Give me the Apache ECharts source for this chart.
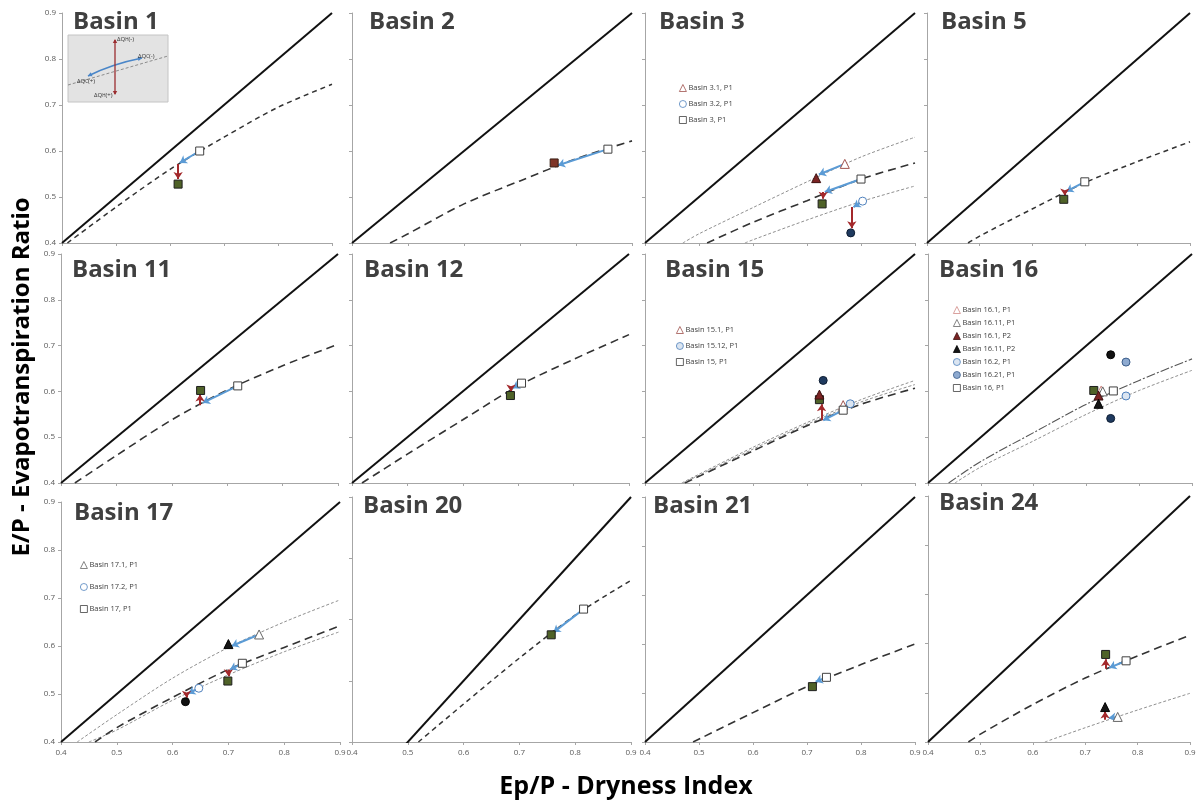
<!DOCTYPE html>
<html>
<head>
<meta charset="utf-8">
<script src="https://cdn.jsdelivr.net/npm/echarts@6/dist/echarts.min.js"></script>
<style>
html, body { margin: 0; padding: 0; background: #fff; }
#chart { width: 1201px; height: 805px; }
</style>
</head>
<body>
<div id="chart"></div>
<script>
// axis range shared by every panel
var axisMin = 0.4, axisMax = 0.9, axisStep = 0.1;
var b20YMin = 0.5;
var oneToOne = [[0.4, 0.4], [0.9, 0.9]];

// Basin 1
var b1Fit = [[0.41, 0.40], [0.5, 0.478], [0.6, 0.56], [0.7, 0.63], [0.8, 0.695], [0.9, 0.745]];
var b1Start = [[0.655, 0.600]];
var b1End = [[0.615, 0.528]];
var b1Climate = [[[0.655, 0.600], [0.618, 0.574]]];
var b1Human = [[[0.615, 0.572], [0.615, 0.539]]];

// Basin 2
var b2Fit = [[0.468, 0.40], [0.5, 0.42], [0.6, 0.485], [0.7, 0.535], [0.8, 0.583], [0.9, 0.622]];
var b2Start = [[0.857, 0.604]];
var b2End = [[0.761, 0.574]];
var b2Climate = [[[0.857, 0.604], [0.768, 0.569]]];

// Basin 3  (order: 3, 3.1, 3.2)
var b3Fit = [[0.515, 0.40], [0.6, 0.445], [0.7, 0.492], [0.8, 0.539], [0.9, 0.574]];
var b3Fit31 = [[0.47, 0.40], [0.5, 0.42], [0.6, 0.477], [0.7, 0.533], [0.8, 0.587], [0.9, 0.63]];
var b3Fit32 = [[0.585, 0.40], [0.6, 0.407], [0.7, 0.45], [0.8, 0.49], [0.9, 0.524]];
var b3Start = [[0.800, 0.539], [0.770, 0.572], [0.803, 0.491]];
var b3End = [[0.728, 0.485], [0.717, 0.541], [0.781, 0.422]];
var b3Climate = [[[0.800, 0.539], [0.733, 0.511]], [[0.770, 0.572], [0.722, 0.549]], [[0.803, 0.491], [0.786, 0.478]]];
var b3Human = [[[0.730, 0.511], [0.730, 0.496]], [[0.783, 0.478], [0.783, 0.432]]];

// Basin 5
var b5Fit = [[0.478, 0.40], [0.5, 0.415], [0.6, 0.474], [0.7, 0.531], [0.8, 0.577], [0.9, 0.62]];
var b5Start = [[0.700, 0.533]];
var b5End = [[0.660, 0.495]];
var b5Climate = [[[0.700, 0.533], [0.665, 0.512]]];
var b5Human = [[[0.662, 0.513], [0.662, 0.503]]];

// Basin 11
var b11Fit = [[0.425, 0.40], [0.5, 0.46], [0.6, 0.538], [0.7, 0.603], [0.8, 0.656], [0.9, 0.703]];
var b11Start = [[0.719, 0.612]];
var b11End = [[0.652, 0.602]];
var b11Climate = [[[0.719, 0.612], [0.656, 0.575]]];
var b11Human = [[[0.651, 0.570], [0.651, 0.593]]];

// Basin 12
var b12Fit = [[0.418, 0.40], [0.5, 0.463], [0.6, 0.538], [0.7, 0.612], [0.8, 0.670], [0.9, 0.724]];
var b12Start = [[0.706, 0.618]];
var b12End = [[0.686, 0.591]];
var b12Climate = [[[0.706, 0.618], [0.690, 0.607]]];
var b12Human = [[[0.687, 0.607], [0.687, 0.600]]];

// Basin 15  (order: 15, 15.1, 15.12)
var b15Fit = [[0.474, 0.40], [0.6, 0.47], [0.7, 0.525], [0.8, 0.572], [0.9, 0.607]];
var b15Fit1 = [[0.468, 0.40], [0.6, 0.478], [0.7, 0.532], [0.8, 0.582], [0.9, 0.624]];
var b15Fit12 = [[0.471, 0.40], [0.6, 0.474], [0.7, 0.528], [0.8, 0.577], [0.9, 0.615]];
var b15Start = [[0.767, 0.559], [0.767, 0.570], [0.780, 0.573]];
var b15End = [[0.723, 0.582], [0.723, 0.593], [0.730, 0.624]];
var b15Climate = [[[0.767, 0.559], [0.730, 0.537]]];
var b15Human = [[[0.727, 0.537], [0.727, 0.572]]];

// Basin 16  (P1: 16.1, 16.11, 16.2, 16.21, 16 / P2: 16.1, 16.11)
var b16FitA = [[0.439, 0.40], [0.5, 0.447], [0.6, 0.51], [0.7, 0.572], [0.8, 0.624], [0.9, 0.671]];
var b16FitB = [[0.451, 0.40], [0.5, 0.435], [0.6, 0.492], [0.7, 0.55], [0.8, 0.602], [0.9, 0.646]];
var b16P1 = [[0.728, 0.602], [0.731, 0.600], [0.775, 0.590], [0.775, 0.664], [0.751, 0.601]];
var b16P2 = [[0.723, 0.591], [0.723, 0.573]];
var b16Other = [[0.714, 0.602], [0.746, 0.680], [0.746, 0.541]];

// Basin 17  (order: 17, 17.1, 17.2)
var b17Fit = [[0.461, 0.40], [0.5, 0.43], [0.6, 0.493], [0.7, 0.551], [0.8, 0.597], [0.9, 0.642]];
var b17Fit1 = [[0.429, 0.40], [0.5, 0.457], [0.6, 0.533], [0.7, 0.597], [0.8, 0.65], [0.9, 0.696]];
var b17Fit2 = [[0.45, 0.40], [0.5, 0.425], [0.6, 0.487], [0.7, 0.54], [0.8, 0.588], [0.9, 0.63]];
var b17Start = [[0.725, 0.564], [0.755, 0.624], [0.647, 0.512]];
var b17End = [[0.699, 0.527], [0.700, 0.604], [0.623, 0.484]];
var b17Climate = [[[0.725, 0.564], [0.703, 0.551]], [[0.755, 0.624], [0.706, 0.600]], [[0.647, 0.512], [0.628, 0.501]]];
var b17Human = [[[0.700, 0.551], [0.700, 0.537]], [[0.625, 0.501], [0.625, 0.492]]];

// Basin 20
var b20Fit = [[0.519, 0.50], [0.6, 0.562], [0.7, 0.637], [0.8, 0.707], [0.9, 0.764]];
var b20Start = [[0.815, 0.717]];
var b20End = [[0.757, 0.675]];
var b20Climate = [[[0.815, 0.717], [0.761, 0.679]]];

// Basin 21
var b21Fit = [[0.489, 0.40], [0.6, 0.46], [0.7, 0.513], [0.8, 0.558], [0.9, 0.60]];
var b21Start = [[0.736, 0.532]];
var b21End = [[0.710, 0.513]];
var b21Climate = [[[0.736, 0.532], [0.716, 0.523]]];

// Basin 24
var b24Fit = [[0.477, 0.40], [0.5, 0.416], [0.6, 0.476], [0.7, 0.53], [0.8, 0.575], [0.9, 0.617]];
var b24FitLow = [[0.623, 0.40], [0.7, 0.429], [0.8, 0.465], [0.9, 0.499]];
var b24Start = [[0.778, 0.565], [0.762, 0.451]];
var b24End = [[0.739, 0.578], [0.738, 0.471]];
var b24Climate = [[[0.778, 0.565], [0.746, 0.551]], [[0.762, 0.451], [0.745, 0.449]]];
var b24Human = [[[0.739, 0.549], [0.739, 0.568]], [[0.738, 0.445], [0.738, 0.462]]];

// ---------- styles ----------
var markStyle = {
    open:        { symbol: 'rect',     size: 8, fill: '#ffffff', line: '#404040' },
    green:       { symbol: 'rect',     size: 8, fill: '#4f6228', line: '#1e1e1e' },
    brown:       { symbol: 'rect',     size: 8, fill: '#7f3527', line: '#3a2015' },
    triOpenRed:  { symbol: 'triangle', size: 9, fill: '#ffffff', line: '#a0524d' },
    triOpenPink: { symbol: 'triangle', size: 9, fill: '#ffffff', line: '#d08a86' },
    triOpenGray: { symbol: 'triangle', size: 9, fill: '#ffffff', line: '#666666' },
    triRed:      { symbol: 'triangle', size: 9, fill: '#7b2323', line: '#3d1010' },
    triBlack:    { symbol: 'triangle', size: 9, fill: '#151515', line: '#000000' },
    cirOpen:     { symbol: 'circle',   size: 8, fill: '#ffffff', line: '#4f81bd' },
    cirLight:    { symbol: 'circle',   size: 8, fill: '#dbe5f1', line: '#4f81bd' },
    cirBlue:     { symbol: 'circle',   size: 8, fill: '#8eaad0', line: '#3b5d8a' },
    cirNavy:     { symbol: 'circle',   size: 8, fill: '#1f3a5f', line: '#0f1e33' },
    cirBlack:    { symbol: 'circle',   size: 8, fill: '#111111', line: '#000000' }
};
var fitStyle = {
    solid:   { color: '#111', width: 2, type: 'solid' },
    dash:    { color: '#333', width: 1.6, type: [8, 5] },
    sdash:   { color: '#333', width: 1.5, type: [5, 4] },
    dot:     { color: '#8f8f8f', width: 1, type: [3, 2] },
    dashdot: { color: '#555', width: 1.1, type: [9, 2, 2, 2] }
};

// pixel box of each panel: left, top, right, bottom
var boxes = [
    [62, 13, 332, 243], [352, 13, 632, 243], [645, 13, 915, 243], [927, 13, 1190, 243],
    [61, 254, 338, 483], [352, 254, 629, 483], [645, 254, 915, 483], [928, 254, 1192, 483],
    [61, 502, 340, 742], [352, 497, 631, 742], [645, 497, 915, 742], [928, 496, 1190, 742]
];
var titlePos = [
    [73, 10], [369, 10], [659, 10], [941, 10],
    [72, 258], [364, 258], [665, 258], [939, 258],
    [74, 501], [363, 494], [653, 494], [939, 491]
];

var panels = [
    { name: 'Basin 1', fits: [[b1Fit, 'sdash']],
      marks: [[b1Start[0], 'open', 'Basin 1, P1'], [b1End[0], 'green']],
      climate: b1Climate, human: b1Human },
    { name: 'Basin 2', fits: [[b2Fit, 'dash']],
      marks: [[b2Start[0], 'open', 'Basin 2, P1'], [b2End[0], 'brown']],
      climate: b2Climate, human: [] },
    { name: 'Basin 3', fits: [[b3Fit31, 'dot'], [b3Fit, 'dash'], [b3Fit32, 'dot']],
      marks: [[b3Start[1], 'triOpenRed', 'Basin 3.1, P1'], [b3Start[2], 'cirOpen', 'Basin 3.2, P1'],
              [b3Start[0], 'open', 'Basin 3, P1'],
              [b3End[0], 'green'], [b3End[1], 'triRed'], [b3End[2], 'cirNavy']],
      climate: b3Climate, human: b3Human, legend: { left: 679, top: 84, gap: 8 } },
    { name: 'Basin 5', fits: [[b5Fit, 'sdash']],
      marks: [[b5Start[0], 'open', 'Basin 5, P1'], [b5End[0], 'green']],
      climate: b5Climate, human: b5Human },
    { name: 'Basin 11', fits: [[b11Fit, 'dash']],
      marks: [[b11Start[0], 'open', 'Basin 11, P1'], [b11End[0], 'green']],
      climate: b11Climate, human: b11Human },
    { name: 'Basin 12', fits: [[b12Fit, 'dash']],
      marks: [[b12Start[0], 'open', 'Basin 12, P1'], [b12End[0], 'green']],
      climate: b12Climate, human: b12Human },
    { name: 'Basin 15', fits: [[b15Fit1, 'dot'], [b15Fit12, 'dot'], [b15Fit, 'dash']],
      marks: [[b15Start[1], 'triOpenRed', 'Basin 15.1, P1'], [b15Start[2], 'cirLight', 'Basin 15.12, P1'],
              [b15Start[0], 'open', 'Basin 15, P1'],
              [b15End[0], 'green'], [b15End[1], 'triRed'], [b15End[2], 'cirNavy']],
      climate: b15Climate, human: b15Human, legend: { left: 676, top: 326, gap: 8 } },
    { name: 'Basin 16', fits: [[b16FitA, 'dashdot'], [b16FitB, 'dot']],
      marks: [[b16Other[0], 'green'], [b16Other[1], 'cirBlack'], [b16Other[2], 'cirNavy'],
              [b16P1[0], 'triOpenPink', 'Basin 16.1, P1'], [b16P1[1], 'triOpenGray', 'Basin 16.11, P1'],
              [b16P2[0], 'triRed', 'Basin 16.1, P2'], [b16P2[1], 'triBlack', 'Basin 16.11, P2'],
              [b16P1[2], 'cirLight', 'Basin 16.2, P1'], [b16P1[3], 'cirBlue', 'Basin 16.21, P1'],
              [b16P1[4], 'open', 'Basin 16, P1']],
      climate: [], human: [], legend: { left: 953, top: 306, gap: 5 } },
    { name: 'Basin 17', fits: [[b17Fit1, 'dot'], [b17Fit2, 'dot'], [b17Fit, 'dash']],
      marks: [[b17Start[1], 'triOpenGray', 'Basin 17.1, P1'], [b17Start[2], 'cirOpen', 'Basin 17.2, P1'],
              [b17Start[0], 'open', 'Basin 17, P1'],
              [b17End[0], 'green'], [b17End[1], 'triBlack'], [b17End[2], 'cirBlack']],
      climate: b17Climate, human: b17Human, legend: { left: 80, top: 561, gap: 14 } },
    { name: 'Basin 20', fits: [[b20Fit, 'sdash']], yMin: b20YMin,
      marks: [[b20Start[0], 'open', 'Basin 20, P1'], [b20End[0], 'green']],
      climate: b20Climate, human: [] },
    { name: 'Basin 21', fits: [[b21Fit, 'dash']],
      marks: [[b21Start[0], 'open', 'Basin 21, P1'], [b21End[0], 'green']],
      climate: b21Climate, human: [] },
    { name: 'Basin 24', fits: [[b24FitLow, 'dot'], [b24Fit, 'dash']],
      marks: [[b24Start[1], 'triOpenGray', 'Basin 24.1, P1'], [b24Start[0], 'open', 'Basin 24, P1'],
              [b24End[0], 'green'], [b24End[1], 'triBlack']],
      climate: b24Climate, human: b24Human }
];

var grids = [], xAxes = [], yAxes = [], series = [], titles = [], legends = [];

panels.forEach(function (p, i) {
    var b = boxes[i];
    var row = Math.floor(i / 4), col = i % 4;
    grids.push({ left: b[0], top: b[1], width: b[2] - b[0], height: b[3] - b[1] });
    xAxes.push({
        gridIndex: i, type: 'value', min: axisMin, max: axisMax, interval: axisStep,
        axisLine: { onZero: false, lineStyle: { color: '#a6a6a6', width: 1 } },
        axisTick: { length: 3, lineStyle: { color: '#a6a6a6' } },
        axisLabel: { show: row === 2, fontSize: 8, color: '#595959', margin: 7, fontFamily: 'Open Sans',
            formatter: function (v) { return (+v).toFixed(1); } },
        splitLine: { show: false }
    });
    var yMin = p.yMin || axisMin;
    yAxes.push({
        gridIndex: i, type: 'value', min: yMin, max: axisMax, interval: axisStep,
        axisLine: { show: true, onZero: false, lineStyle: { color: '#a6a6a6', width: 1 } },
        axisTick: { show: true, length: 3, lineStyle: { color: '#a6a6a6' } },
        axisLabel: { show: col === 0, fontSize: 8, color: '#595959', margin: 6, fontFamily: 'Open Sans',
            formatter: function (v) { return (+v).toFixed(1); } },
        splitLine: { show: false }
    });
    titles.push({
        text: p.name, left: titlePos[i][0], top: titlePos[i][1], padding: 0,
        textStyle: { fontSize: 24, fontWeight: 'bold', color: '#404040', fontFamily: 'Open Sans' }
    });

    // 1:1 energy limit
    series.push({
        type: 'line', xAxisIndex: i, yAxisIndex: i, data: oneToOne, showSymbol: false,
        lineStyle: fitStyle.solid, silent: true, z: 2, clip: true
    });
    p.fits.forEach(function (f) {
        series.push({
            type: 'line', xAxisIndex: i, yAxisIndex: i, data: f[0], showSymbol: false, smooth: 0.3,
            lineStyle: fitStyle[f[1]], silent: true, z: 2, clip: true
        });
    });
    if (p.climate.length) {
        series.push({
            type: 'lines', coordinateSystem: 'cartesian2d', xAxisIndex: i, yAxisIndex: i,
            symbol: ['none', 'arrow'], symbolSize: 7,
            lineStyle: { color: '#5b9bd5', width: 2, opacity: 1 },
            data: p.climate.map(function (c) { return { coords: c }; }), silent: true, z: 3
        });
    }
    if (p.human.length) {
        series.push({
            type: 'lines', coordinateSystem: 'cartesian2d', xAxisIndex: i, yAxisIndex: i,
            symbol: ['none', 'arrow'], symbolSize: 7,
            lineStyle: { color: '#a3282b', width: 2, opacity: 1 },
            data: p.human.map(function (c) { return { coords: c }; }), silent: true, z: 3
        });
    }
    var legendNames = [];
    p.marks.forEach(function (m) {
        var s = markStyle[m[1]];
        series.push({
            type: 'scatter', name: m[2], xAxisIndex: i, yAxisIndex: i, data: [m[0]],
            symbol: s.symbol, symbolSize: s.size,
            itemStyle: { color: s.fill, borderColor: s.line, borderWidth: 1, opacity: 1 },
            silent: true, z: 5
        });
        if (m[2] && p.legend) legendNames.push(m[2]);
    });
    if (p.legend) {
        legends.push({
            data: legendNames, left: p.legend.left, top: p.legend.top, orient: 'vertical',
            itemWidth: 7, itemHeight: 7, itemGap: p.legend.gap, padding: 0, selectedMode: false,
            itemStyle: { borderWidth: 0.8 },
            textStyle: { fontSize: 7.5, color: '#404040', fontFamily: 'Open Sans', padding: [0, 0, 0, -3] }
        });
    }
});

// small schematic inset in Basin 1
function head(x, y, ang, color) {
    var L = 4, W = 2.2;
    var bx = x - L * Math.cos(ang), by = y - L * Math.sin(ang);
    var nx = -Math.sin(ang) * W, ny = Math.cos(ang) * W;
    return { type: 'polygon', shape: { points: [[x, y], [bx + nx, by + ny], [bx - nx, by - ny]] },
             style: { fill: color }, z: 10 };
}
function dq(x, y, sub, sign) {
    return { type: 'text', x: x, y: y, z: 10,
        style: { text: '{a|ΔQ}{b|' + sub + '}{a|(' + sign + ')}', fill: '#333',
            rich: { a: { fontSize: 6, fontFamily: 'Open Sans' }, b: { fontSize: 4.5, fontFamily: 'Open Sans', verticalAlign: 'bottom' } } } };
}
var inset = [
    { type: 'rect', shape: { x: 68, y: 35, width: 100, height: 67 }, style: { fill: '#e3e3e3', stroke: '#c4c4c4' }, z: 9 },
    { type: 'line', shape: { x1: 68, y1: 85, x2: 168, y2: 56 }, style: { stroke: '#8c8c8c', lineDash: [3, 2], lineWidth: 1 }, z: 10 },
    { type: 'bezierCurve', shape: { x1: 88, y1: 76, x2: 142, y2: 58, cpx1: 112, cpy1: 64 },
      style: { stroke: '#4a86c8', lineWidth: 1.5, fill: null }, z: 10 },
    head(88, 76, Math.atan2(12, -24), '#4a86c8'),
    head(142, 58, Math.atan2(-6, 30), '#4a86c8'),
    { type: 'line', shape: { x1: 115, y1: 40, x2: 115, y2: 94 }, style: { stroke: '#9b2d30', lineWidth: 1.3 }, z: 10 },
    head(115, 39, -Math.PI / 2, '#9b2d30'),
    head(115, 95, Math.PI / 2, '#9b2d30'),
    dq(117, 36, 'H', '-'),
    dq(138, 53, 'C', '-'),
    dq(77, 78, 'C', '+'),
    dq(94, 92, 'H', '+')
];

var axisTitles = [
    { type: 'text', x: 22, y: 377, rotation: Math.PI / 2,
      style: { text: 'E/P - Evapotranspiration Ratio', fontSize: 24, fontWeight: 'bold', fontFamily: 'Open Sans',
               fill: '#000', align: 'center', verticalAlign: 'middle' } },
    { type: 'text', x: 626, y: 787,
      style: { text: 'Ep/P - Dryness Index', fontSize: 25, fontWeight: 'bold', fontFamily: 'Open Sans',
               fill: '#000', align: 'center', verticalAlign: 'middle' } }
];

var myChart = echarts.init(document.getElementById('chart'), null, { renderer: 'canvas' });
myChart.setOption({
    animation: false,
    backgroundColor: '#fff',
    title: titles,
    legend: legends,
    grid: grids,
    xAxis: xAxes,
    yAxis: yAxes,
    series: series,
    graphic: inset.concat(axisTitles)
});
</script>
</body>
</html>
